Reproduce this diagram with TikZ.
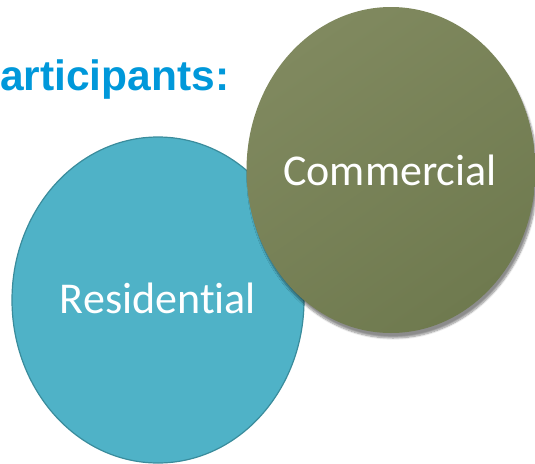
\documentclass[tikz,border=0pt]{standalone}
\usepackage{fontspec}
\setmainfont[Ligatures = {NoCommon, NoContextual}]{Carlito}
\newfontfamily\headfont{Liberation Sans}
\usetikzlibrary{shapes.geometric,shadows.blur}

\definecolor{headblue}{HTML}{0098DA}
\definecolor{resfill}{HTML}{4FB2C7}
\definecolor{resline}{HTML}{3A8C9C}
\definecolor{comtop}{HTML}{80895F}
\definecolor{combot}{HTML}{6F7A4F}

\tikzset{
  circ/.style = {ellipse, inner sep = 0, text = white, font = \fontsize{43}{50}\selectfont},
  res/.style = {circ, fill = resfill, draw = resline, line width = 1.2pt,
    minimum width = 292, minimum height = 326},
  com/.style = {circ, top color = comtop, bottom color = combot, shading angle = 35,
    minimum width = 289, minimum height = 326,
    blur shadow = {shadow xshift = 2pt, shadow yshift = -5pt, shadow blur steps = 8,
      shadow opacity = 45}}
}

\begin{document}
\begin{tikzpicture} [x = 1pt, y = -1pt]
    \useasboundingbox (0,0) rectangle (535,463);
    % heading, runs off the left edge
    \node [anchor = base west, inner sep = 0, text = headblue,
      font = \headfont\bfseries\fontsize{42.5}{48}\selectfont] (head) at (0,90) {articipants:};
    % the two groups
    \node [res] (residential) at (158,300) {};
    \node [com] (commercial) at (391,170) {};
    \node [anchor = base, text = white, font = \fontsize{44}{50}\selectfont] (reslabel) at (158,313) {Residential};
    \node [anchor = base, text = white, font = \fontsize{44}{50}\selectfont] (comlabel) at (390,185) {Commercial};
  \end{tikzpicture}
\end{document}
